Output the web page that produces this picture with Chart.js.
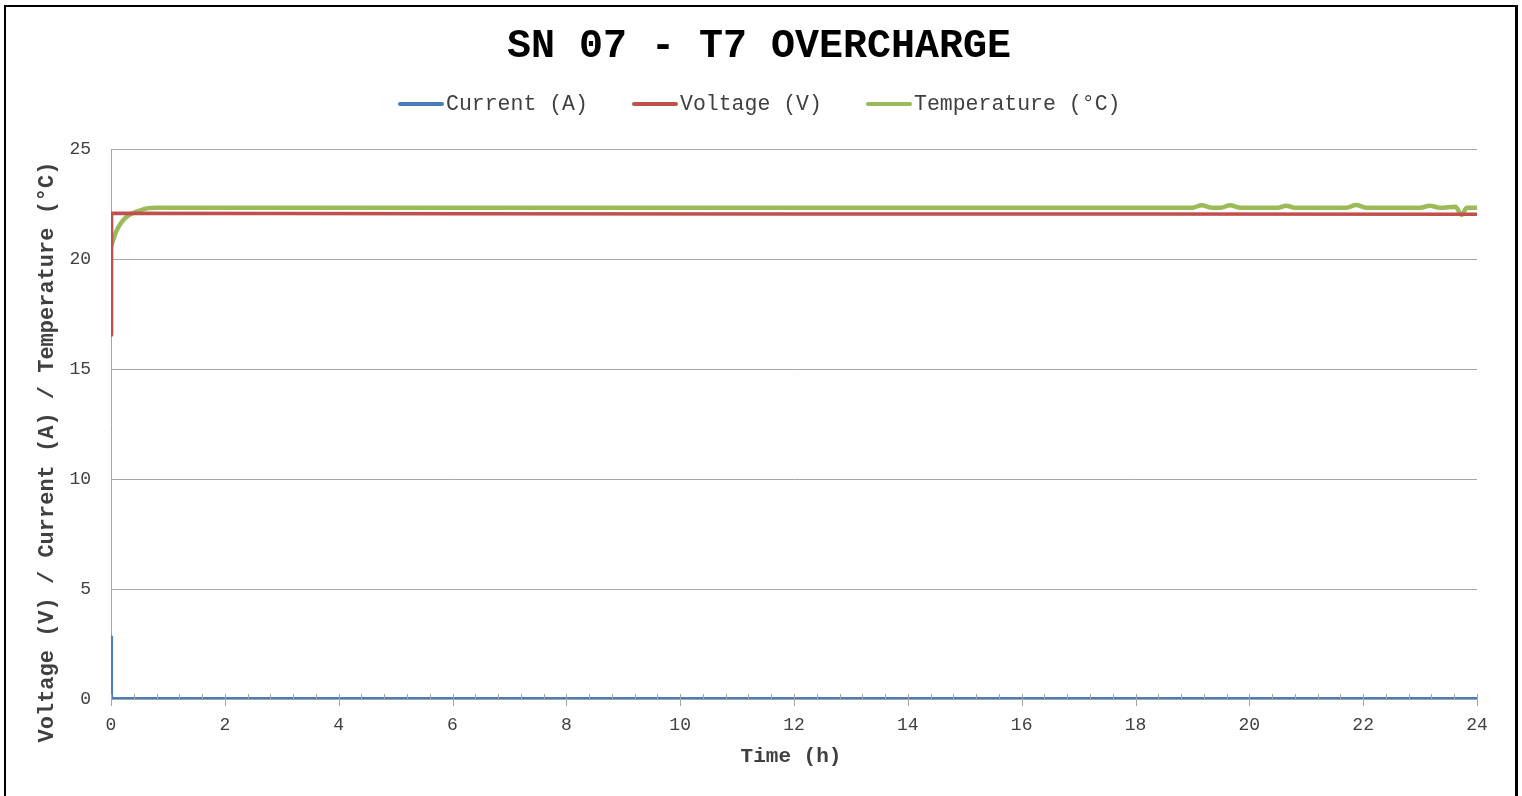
<!DOCTYPE html>
<html>
<head>
<meta charset="utf-8">
<title>SN 07 - T7 OVERCHARGE</title>
<script src="https://cdn.jsdelivr.net/npm/chart.js@4/dist/chart.umd.min.js"></script>
<style>
  html, body { margin: 0; padding: 0; background: #ffffff; }
  #wrap { position: relative; width: 1522px; height: 796px; }
  canvas { display: block; }
</style>
</head>
<body>
<div id="wrap"><canvas id="chart" width="1522" height="796"></canvas></div>
<script>
// Test record: SN 07, test T7 (overcharge)
const chartTitle = 'SN 07 - T7 OVERCHARGE';
const xAxisTitle = 'Time (h)';
const yAxisTitle = 'Voltage (V) / Current (A) / Temperature (°C)';

// X ticks (hours) and Y ticks
const xTickValues = [0, 2, 4, 6, 8, 10, 12, 14, 16, 18, 20, 22, 24];
const yTickValues = [0, 5, 10, 15, 20, 25];

// Current (A)
const currentTime = [0, 0.01, 24];
const currentValues = [2.83, 0.02, 0.02];

// Voltage (V)
const voltageTime = [0, 0.01, 6, 12, 18, 24];
const voltageValues = [16.55, 22.08, 22.06, 22.05, 22.04, 22.03];

// Temperature (°C)
const temperatureTime = [0, 0.05, 0.1, 0.2, 0.3, 0.45, 0.63, 0.8, 19.0, 19.16, 19.35, 19.5, 19.66, 19.85,
  20.5, 20.65, 20.8, 21.7, 21.88, 22.05, 23.0, 23.17, 23.35, 23.62, 23.73, 23.82, 24];
const temperatureValues = [20.55, 20.95, 21.3, 21.72, 21.97, 22.15, 22.3, 22.33, 22.33, 22.44, 22.33, 22.33, 22.44, 22.33,
  22.33, 22.42, 22.33, 22.33, 22.45, 22.33, 22.33, 22.42, 22.33, 22.38, 22.0, 22.33, 22.33];

const seriesColors = { current: '#4A7EBB', voltage: '#C0504D', temperature: '#9BBB59' };

function points(xs, ys) { return xs.map((x, i) => ({ x: x, y: ys[i] })); }

const MONO = '"Liberation Mono", "Courier New", monospace';
const GRID = '#a6a6a6';
const TEXT = '#404040';

// Background, outer frame, titles, legend and x-axis tick marks
const decorations = {
  id: 'decorations',
  beforeDraw(chart) {
    const ctx = chart.ctx;
    ctx.save();
    ctx.fillStyle = '#ffffff';
    ctx.fillRect(0, 0, chart.width, chart.height);
    ctx.restore();
  },
  afterDatasetsDraw(chart) {
    const ctx = chart.ctx;
    const xs = chart.scales.x;
    const y0 = chart.chartArea.bottom;
    ctx.save();
    ctx.strokeStyle = GRID;
    ctx.lineWidth = 1;
    for (let i = 0; i <= 60; i++) {
      const v = i * 0.4;
      const px = Math.round(xs.getPixelForValue(v)) + 0.5;
      const major = i % 5 === 0;
      ctx.beginPath();
      ctx.moveTo(px, y0 - 5);
      ctx.lineTo(px, major ? y0 + 7 : y0);
      ctx.stroke();
    }
    ctx.restore();
  },
  afterDraw(chart) {
    const ctx = chart.ctx;
    ctx.save();

    // frame
    ctx.fillStyle = '#000000';
    ctx.fillRect(4, 5, 1514, 2);
    ctx.fillRect(4, 5, 2, chart.height);
    ctx.fillRect(1515, 5, 3, chart.height);

    // chart title
    ctx.fillStyle = '#000000';
    ctx.font = 'bold 40px ' + MONO;
    ctx.textAlign = 'center';
    ctx.textBaseline = 'middle';
    ctx.fillText(chartTitle, 759, 47);

    // legend
    const items = chart.data.datasets;
    const starts = [398, 632, 866];
    ctx.font = '21.5px ' + MONO;
    ctx.textAlign = 'left';
    items.forEach((ds, i) => {
      const x = starts[i];
      ctx.strokeStyle = ds.borderColor;
      ctx.lineWidth = 4;
      ctx.lineCap = 'round';
      ctx.beginPath();
      ctx.moveTo(x + 2, 104);
      ctx.lineTo(x + 44, 104);
      ctx.stroke();
      ctx.fillStyle = TEXT;
      ctx.fillText(ds.label, x + 48, 104);
    });

    // axis titles
    ctx.fillStyle = TEXT;
    ctx.font = 'bold 21px ' + MONO;
    ctx.textAlign = 'center';
    ctx.fillText(xAxisTitle, 791, 757);

    ctx.translate(47, 452);
    ctx.rotate(-Math.PI / 2);
    ctx.font = 'bold 22px ' + MONO;
    ctx.fillText(yAxisTitle, 0, 0);
    ctx.restore();
  }
};

new Chart(document.getElementById('chart'), {
  type: 'line',
  data: {
    datasets: [
      { label: 'Current (A)', data: points(currentTime, currentValues),
        borderColor: seriesColors.current, backgroundColor: seriesColors.current, borderWidth: 3, tension: 0 },
      { label: 'Voltage (V)', data: points(voltageTime, voltageValues),
        borderColor: seriesColors.voltage, backgroundColor: seriesColors.voltage, borderWidth: 3.5, tension: 0 },
      { label: 'Temperature (°C)', data: points(temperatureTime, temperatureValues),
        borderColor: seriesColors.temperature, backgroundColor: seriesColors.temperature, borderWidth: 4.5,
        cubicInterpolationMode: 'monotone' }
    ]
  },
  options: {
    responsive: false,
    animation: false,
    layout: { padding: { top: 149, right: 45, bottom: 0, left: 0 } },
    elements: { point: { radius: 0 }, line: { borderCapStyle: 'butt', borderJoinStyle: 'round' } },
    plugins: { legend: { display: false }, title: { display: false }, tooltip: { enabled: false } },
    scales: {
      x: {
        type: 'linear', min: 0, max: 24,
        afterFit(s) { s.height = 97; },
        afterBuildTicks(s) { s.ticks = xTickValues.map(v => ({ value: v })); },
        grid: { display: false, drawTicks: false },
        border: { display: true, color: GRID, width: 1 },
        ticks: { padding: 15, color: TEXT, font: { family: MONO, size: 18 }, maxRotation: 0 }
      },
      y: {
        min: 0, max: 25,
        afterFit(s) { s.width = 111; },
        afterBuildTicks(s) { s.ticks = yTickValues.map(v => ({ value: v })); },
        grid: { color: GRID, lineWidth: 1, drawTicks: false },
        border: { display: true, color: GRID, width: 1 },
        ticks: { padding: 20, color: TEXT, font: { family: MONO, size: 18 } }
      }
    }
  },
  plugins: [decorations]
});
</script>
</body>
</html>
